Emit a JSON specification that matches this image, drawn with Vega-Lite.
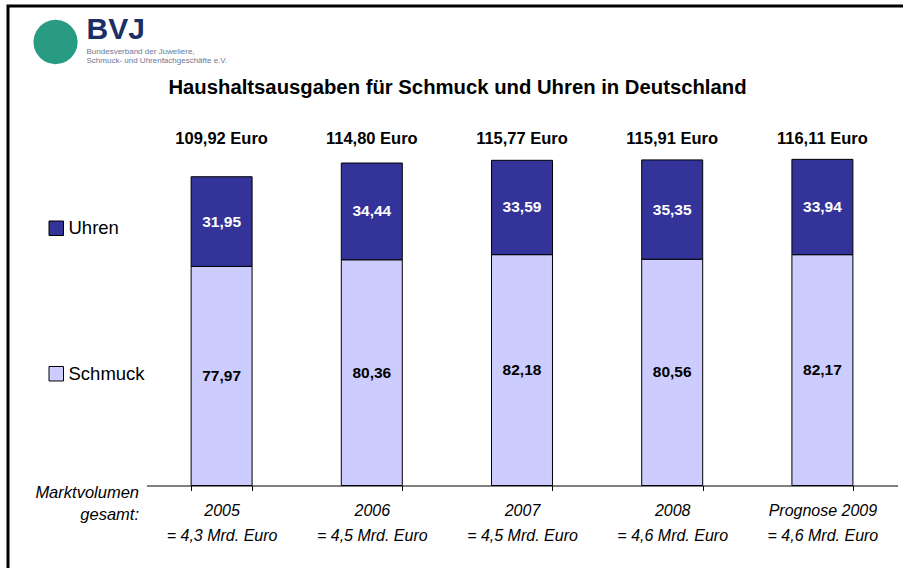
{
  "$schema": "https://vega.github.io/schema/vega-lite/v6.json",
  "padding": {"left": 6, "top": 4, "right": -3, "bottom": -3},
  "background": "white",
  "config": {
    "locale": {"number": {"decimal": ",", "thousands": ".", "grouping": [3], "currency": ["", " Euro"]}},
    "view": {"stroke": "black", "strokeWidth": 3},
    "font": "Liberation Sans"
  },
  "title": {
    "text": "BVJ",
    "subtitle": ["Bundesverband der Juweliere,", "Schmuck- und Uhrenfachgeschäfte e.V."],
    "anchor": "start",
    "frame": "group",
    "dx": 78.5,
    "offset": -60,
    "font": "Liberation Sans",
    "fontSize": 30,
    "fontWeight": "bold",
    "color": "#1b2f66",
    "subtitleFont": "Liberation Sans",
    "subtitleFontSize": 8,
    "subtitleColor": "#6b7896",
    "subtitlePadding": 3,
    "subtitleLineHeight": 9
  },
  "vconcat": [
    {
      "width": 897,
      "height": 564,
      "title": {
        "text": "Haushaltsausgaben für Schmuck und Uhren in Deutschland",
        "anchor": "middle",
        "frame": "group",
        "dx": 1,
        "offset": -108,
        "baseline": "alphabetic",
        "font": "Liberation Sans",
        "fontSize": 20.3,
        "fontWeight": "bold",
        "color": "black"
      },
      "data": {
        "values": [
          {"Jahr": "2005|= 4,3 Mrd. Euro", "Kategorie": "Schmuck", "Wert": 77.97},
          {"Jahr": "2005|= 4,3 Mrd. Euro", "Kategorie": "Uhren", "Wert": 31.95},
          {"Jahr": "2006|= 4,5 Mrd. Euro", "Kategorie": "Schmuck", "Wert": 80.36},
          {"Jahr": "2006|= 4,5 Mrd. Euro", "Kategorie": "Uhren", "Wert": 34.44},
          {"Jahr": "2007|= 4,5 Mrd. Euro", "Kategorie": "Schmuck", "Wert": 82.18},
          {"Jahr": "2007|= 4,5 Mrd. Euro", "Kategorie": "Uhren", "Wert": 33.59},
          {"Jahr": "2008|= 4,6 Mrd. Euro", "Kategorie": "Schmuck", "Wert": 80.56},
          {"Jahr": "2008|= 4,6 Mrd. Euro", "Kategorie": "Uhren", "Wert": 35.35},
          {"Jahr": "Prognose 2009|= 4,6 Mrd. Euro", "Kategorie": "Schmuck", "Wert": 82.17},
          {"Jahr": "Prognose 2009|= 4,6 Mrd. Euro", "Kategorie": "Uhren", "Wert": 33.94}
        ]
      },
      "layer": [
        {
          "mark": {"type": "bar", "stroke": "black", "strokeWidth": 1},
          "encoding": {
            "x": {
              "field": "Jahr", "type": "nominal", "sort": null,
              "scale": {"range": [138.5, 889.5], "paddingInner": 0.594, "paddingOuter": 0.297},
              "axis": {
                "orient": "bottom", "offset": -84.5,
                "domainColor": "black", "domainWidth": 1,
                "tickColor": "black", "tickSize": 5, "tickBand": "extent",
                "labelAngle": 0, "labelExpr": "split(datum.label, '|')",
                "labelFont": "Liberation Sans", "labelFontSize": 16, "labelFontStyle": "italic",
                "labelColor": "black", "labelLineHeight": 25, "labelPadding": 12, "labelBaseline": "top",
                "title": ["Marktvolumen", "gesamt:"],
                "titleX": 130.5, "titleY": -1, "titleAlign": "right", "titleBaseline": "top", "titleAngle": 0,
                "titleFont": "Liberation Sans", "titleFontSize": 16.5, "titleFontStyle": "italic",
                "titleFontWeight": "normal", "titleColor": "black", "titleLineHeight": 22,
                "grid": false
              }
            },
            "y": {
              "field": "Wert", "type": "quantitative", "stack": "zero",
              "scale": {"domain": [0, 170.7], "range": [479.5, 0], "nice": false, "zero": true},
              "axis": {
                "orient": "left", "labels": false, "ticks": false, "domain": false, "grid": false,
                "title": "●", "titleFont": "DejaVu Sans", "titleFontSize": 58, "titleFontWeight": "normal",
                "titleColor": "#2a9b83", "titleAngle": 0, "titleX": 47, "titleY": 33,
                "titleAlign": "center", "titleBaseline": "middle"
              }
            },
            "color": {
              "field": "Kategorie", "type": "nominal",
              "scale": {"domain": ["Uhren", "Schmuck"], "range": ["#333399", "#CCCCFF"]},
              "legend": {
                "orient": "none", "legendX": 39, "legendY": 213, "direction": "vertical",
                "title": null, "symbolType": "square", "symbolSize": 210,
                "symbolStrokeColor": "black", "symbolStrokeWidth": 1, "symbolOpacity": 1,
                "labelFont": "Liberation Sans", "labelFontSize": 18.5, "labelColor": "black",
                "labelOffset": 3, "rowPadding": 126.5, "padding": 0
              }
            },
            "order": {"field": "Kategorie", "type": "ordinal", "sort": "ascending"}
          }
        },
        {
          "transform": [
            {"stack": "Wert", "groupby": ["Jahr"], "sort": [{"field": "Kategorie", "order": "ascending"}], "as": ["y0", "y1"]},
            {"calculate": "(datum.y0 + datum.y1) / 2", "as": "mitte"}
          ],
          "mark": {"type": "text", "font": "Liberation Sans", "fontSize": 15.5, "fontWeight": "bold", "baseline": "middle", "align": "center"},
          "encoding": {
            "x": {"field": "Jahr", "type": "nominal", "sort": null},
            "y": {"field": "mitte", "type": "quantitative"},
            "text": {"field": "Wert", "type": "quantitative", "format": ".2f"},
            "color": {"condition": {"test": "datum.Kategorie === 'Uhren'", "value": "white"}, "value": "black"}
          }
        },
        {
          "transform": [
            {"aggregate": [{"op": "sum", "field": "Wert", "as": "Summe"}], "groupby": ["Jahr"]}
          ],
          "mark": {"type": "text", "font": "Liberation Sans", "fontSize": 16.5, "fontWeight": "bold", "baseline": "middle", "align": "center", "color": "black"},
          "encoding": {
            "x": {"field": "Jahr", "type": "nominal", "sort": null},
            "y": {"datum": 123.35, "type": "quantitative"},
            "text": {"field": "Summe", "type": "quantitative", "format": "$.2f"}
          }
        }
      ]
    }
  ]
}
